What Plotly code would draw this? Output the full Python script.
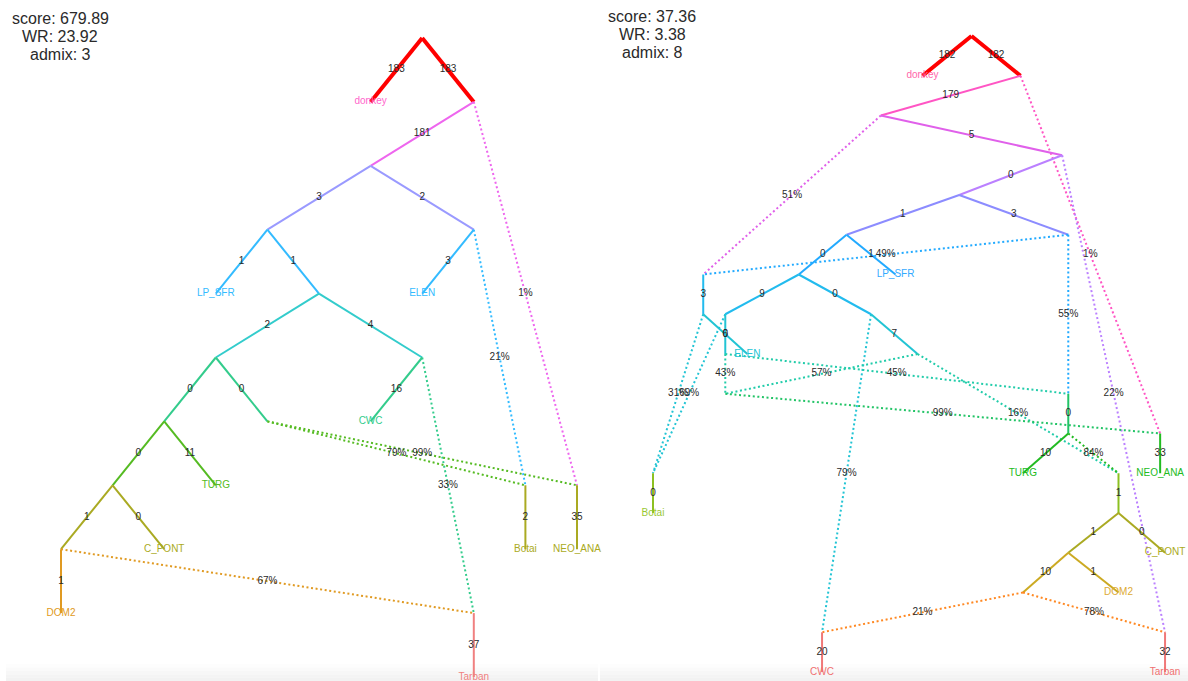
import plotly.graph_objects as go

# ---------------- Left graph (admix: 3) ----------------
# node layout: column / row on the graph grid
left_nodes = ["R", "donkey", "A", "B", "C", "D", "LP_SFR", "E", "ELEN", "F", "G",
              "H", "I", "CWC", "J", "TURG", "Botai_in", "NEO_in", "K", "C_PONT",
              "Botai", "NEO_ANA", "DOM2", "Tarban_in", "Tarban"]
left_cols = [7, 6, 8, 6, 4, 8, 3, 5, 7, 3, 7,
             2, 4, 6, 1, 3, 9, 10, 0, 2,
             9, 10, 0, 8, 8]
left_rows = [0, 1, 1, 2, 3, 3, 4, 4, 4, 5, 5,
             6, 6, 6, 7, 7, 7, 7, 8, 8,
             8, 8, 9, 9, 10]
# edges: drift labels for tree edges, percentages for admixture edges
left_src = ["R", "R", "A", "A", "B", "B", "C", "C", "D", "D", "E", "E", "G", "G",
            "F", "F", "I", "I", "H", "H", "J", "J", "K", "K", "Botai_in", "NEO_in",
            "Tarban_in"]
left_dst = ["donkey", "A", "B", "NEO_in", "C", "D", "LP_SFR", "E", "ELEN", "Botai_in",
            "F", "G", "CWC", "Tarban_in", "H", "I", "Botai_in", "NEO_in", "J", "TURG",
            "K", "C_PONT", "DOM2", "Tarban_in", "Botai", "NEO_ANA", "Tarban"]
left_weights = ["183", "183", "181", "1%", "3", "2", "1", "1", "3", "21%",
                "2", "4", "16", "33%", "0", "0", "79%", "99%", "0", "11",
                "1", "0", "1", "67%", "2", "35", "37"]
left_leaves = ["donkey", "LP_SFR", "ELEN", "CWC", "TURG", "C_PONT", "Botai",
               "NEO_ANA", "DOM2", "Tarban"]
left_stats = ["score: 679.89", "WR: 23.92", "admix: 3"]

# ---------------- Right graph (admix: 8) ----------------
right_nodes = ["R", "donkey", "A", "B", "C", "D", "E", "F", "X", "G", "LP_SFR",
               "H", "X2", "I", "ELEN", "HH", "J", "HH2", "Y", "W", "NEO_in",
               "TURG", "V", "Botai_in", "Botai", "NEO_ANA", "U", "T", "C_PONT",
               "S", "DOM2", "CWC_in", "Tarban_in", "CWC", "Tarban"]
right_cols = [13.0, 11.0, 15.0, 9.3, 16.7, 12.5, 7.9, 16.95, 2.05, 5.95, 9.9,
              2.95, 2.05, 8.9, 3.85, 2.95, 10.8, 2.95, 16.95, 16.95, 20.7,
              15.1, 19.0, 0.0, 0.0, 20.7, 19.0, 16.95, 20.9,
              15.1, 19.0, 6.9, 20.9, 6.9, 20.9]
right_rows = [0, 1, 1, 2, 3, 4, 5, 5, 6, 6, 6,
              7, 7, 7, 8, 8, 8, 9, 9, 10, 10,
              11, 11, 11, 12, 11, 12, 13, 13,
              14, 14, 15, 15, 16, 16]
right_src = ["R", "R", "A", "A", "B", "B", "C", "C", "D", "D",
             "E", "E", "F", "F", "G", "G", "X", "H", "X2", "H", "X2",
             "I", "I", "HH", "HH", "J", "J", "HH2", "Y", "W", "W", "NEO_in",
             "V", "Botai_in", "U", "U", "T", "T", "S", "S", "CWC_in", "Tarban_in"]
right_dst = ["donkey", "A", "B", "NEO_in", "C", "X", "D", "Tarban_in", "E", "F",
             "LP_SFR", "G", "X", "Y", "H", "I", "X2", "HH", "ELEN", "Botai_in", "Botai_in",
             "J", "CWC_in", "HH2", "Y", "HH2", "V", "NEO_in", "W", "TURG", "V", "NEO_ANA",
             "U", "Botai", "C_PONT", "T", "S", "DOM2", "CWC_in", "Tarban_in", "CWC", "Tarban"]
right_weights = ["182", "182", "179", "1%", "5", "51%", "0", "22%", "1", "3",
                 "1", "0", "49%", "55%", "9", "0", "3", "0", "6", "69%", "31%",
                 "7", "79%", "43%", "45%", "57%", "16%", "99%", "0", "10", "84%", "33",
                 "1", "0", "0", "1", "10", "1", "21%", "78%", "20", "32"]
right_leaves = ["donkey", "LP_SFR", "ELEN", "Botai", "TURG", "NEO_ANA", "C_PONT",
                "DOM2", "CWC", "Tarban"]
right_stats = ["score: 37.36", "WR: 3.38", "admix: 8"]

# ---------------- styling ----------------
FONT = "Liberation Sans, Arial, sans-serif"
left_palette = ["#ff0000", "#ee66ee", "#9a9aff", "#33bbff", "#33cccc",
                "#33cc8c", "#55bb22", "#aaaa22", "#e09a22", "#f08080"]
right_palette = ["#ff0000", "#ff55c4", "#e060ea", "#bb80ff", "#8c8cff", "#22aaff",
                 "#22bbee", "#22c4d4", "#22ccaa", "#22c466", "#22bb22", "#8cc022",
                 "#aaaa22", "#ccaa22", "#ff8822", "#f07878"]
left_leaf_colors = {"donkey": "#ff66cc", "LP_SFR": "#33bbff", "ELEN": "#33bbff",
                    "CWC": "#33cc8c", "TURG": "#55bb22", "C_PONT": "#aaaa22",
                    "Botai": "#aaaa22", "NEO_ANA": "#aaaa22", "DOM2": "#e09a22",
                    "Tarban": "#f08080"}
right_leaf_colors = {"donkey": "#ff66aa", "LP_SFR": "#33aaff", "ELEN": "#22c4d4",
                     "Botai": "#99c833", "TURG": "#22bb22", "NEO_ANA": "#22bb22",
                     "C_PONT": "#aaaa22", "DOM2": "#ddaa33", "CWC": "#f07070",
                     "Tarban": "#f07070"}

W, H = 1188, 681
SPLIT = 600

fig = go.Figure()


def draw_graph(nodes, cols, rows, src, dst, weights, leaves, palette, leaf_colors,
               xa, ya):
    pos = {n: (c, r) for n, c, r in zip(nodes, cols, rows)}
    mid_x, mid_y = [], []
    for s, d, w in zip(src, dst, weights):
        (x0, y0), (x1, y1) = pos[s], pos[d]
        admix = w.endswith("%")
        lvl = pos[s][1]
        fig.add_trace(go.Scatter(
            x=[x0, x1], y=[y0, y1], mode="lines", xaxis=xa, yaxis=ya,
            hoverinfo="skip", showlegend=False,
            line=dict(color=palette[lvl], width=4 if lvl == 0 else 2,
                      dash="2px,2.6px" if admix else "solid")))
        mid_x.append((x0 + x1) / 2)
        mid_y.append((y0 + y1) / 2)
    fig.add_trace(go.Scatter(
        x=mid_x, y=mid_y, text=weights, mode="text", xaxis=xa, yaxis=ya,
        textposition="middle center", hoverinfo="skip", showlegend=False,
        textfont=dict(family=FONT, size=10, color="#2a2a2a")))
    fig.add_trace(go.Scatter(
        x=[pos[n][0] for n in leaves], y=[pos[n][1] for n in leaves], text=leaves,
        mode="text", xaxis=xa, yaxis=ya, textposition="middle center",
        hoverinfo="skip", showlegend=False, cliponaxis=False,
        textfont=dict(family=FONT, size=10, color=[leaf_colors[n] for n in leaves])))


draw_graph(left_nodes, left_cols, left_rows, left_src, left_dst, left_weights,
           left_leaves, left_palette, left_leaf_colors, "x", "y")
draw_graph(right_nodes, right_cols, right_rows, right_src, right_dst, right_weights,
           right_leaves, right_palette, right_leaf_colors, "x2", "y2")

# grid-to-pixel spacing of each panel
lx0, ldx, ly0, ldy = 61, 51.6, 38, 63.9
rx0, rdx, ry0, rdy = 653, 24.5, 36, 39.75

axis_common = dict(visible=False, showgrid=False, zeroline=False, fixedrange=True)
fig.update_layout(
    width=W, height=H, margin=dict(l=0, r=0, t=0, b=0),
    paper_bgcolor="white", plot_bgcolor="white",
    xaxis=dict(domain=[0, SPLIT / W], range=[(0 - lx0) / ldx, (SPLIT - lx0) / ldx], **axis_common),
    yaxis=dict(domain=[0, 1], range=[(H - ly0) / ldy, (0 - ly0) / ldy], **axis_common),
    xaxis2=dict(domain=[SPLIT / W, 1], range=[(SPLIT - rx0) / rdx, (W - rx0) / rdx], **axis_common),
    yaxis2=dict(domain=[0, 1], range=[(H - ry0) / rdy, (0 - ry0) / rdy], anchor="x2", **axis_common),
)

# score / WR / admix summary in the top-left of each panel
for stats, cx, top in [(left_stats, 60, 19), (right_stats, 652, 17)]:
    for k, line in enumerate(stats):
        fig.add_annotation(x=cx / W, y=1 - (top + 18 * k) / H, xref="paper", yref="paper",
                           text=line, showarrow=False, xanchor="center", yanchor="middle",
                           font=dict(family=FONT, size=16, color="#2a2a2a"))

# soft grey band along the bottom edge
band_greys = ["#fdfdfd", "#fafafa", "#f7f7f7", "#f4f4f4", "#f2f2f2"]
band_top = 664
band_h = (H - band_top) / len(band_greys)
for k, g in enumerate(band_greys):
    y_hi = 1 - (band_top + k * band_h) / H
    y_lo = 1 - (band_top + (k + 1) * band_h) / H
    for x_lo, x_hi in [(6 / W, 598 / W), (600 / W, 1.0)]:
        fig.add_shape(type="rect", xref="paper", yref="paper", x0=x_lo, x1=x_hi,
                      y0=y_lo, y1=y_hi, line=dict(width=0), fillcolor=g, layer="below")

fig.write_html("out.html")
